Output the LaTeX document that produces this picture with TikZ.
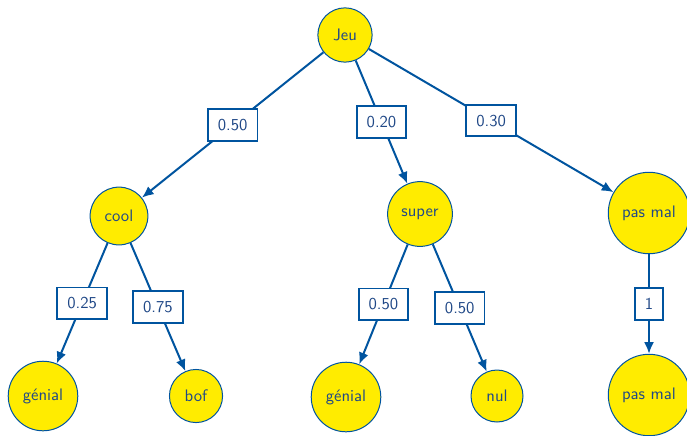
\documentclass[tikz,border=0pt]{standalone}
\usepackage{tikz}
\usetikzlibrary{arrows.meta}

\definecolor{edgeblue}{RGB}{0,84,159}
\definecolor{textblue}{RGB}{32,72,135}
\definecolor{leafyellow}{RGB}{255,236,0}

\begin{document}
\begin{tikzpicture}[
    x=0.6pt, y=-0.6pt,
    font=\sffamily, text=textblue,
    state/.style={circle, draw=edgeblue, line width=0.6pt, fill=leafyellow, inner sep=6pt},
    prob/.style={draw=edgeblue, line width=1.1pt, fill=white, inner sep=6pt},
    arrow/.style={-{Latex[length=7pt, width=6pt]}, draw=edgeblue, line width=1.2pt}
]
\useasboundingbox (0,0) rectangle (687,435);
\clip (0,0) rectangle (687,435);

\node[state] (jeu) at (345,35) {Jeu};
\node[state] (cool) at (119,216) {cool};
\node[state] (super) at (420,214) {super};
\node[state] (pasmal) at (649,213) {pas mal};
\node[state] (genialA) at (43,396) {génial};
\node[state] (bof) at (196,396) {bof};
\node[state] (genialB) at (346,397) {génial};
\node[state] (nul) at (497,396) {nul};
\node[state] (pasmalB) at (649,395) {pas mal};

\draw[arrow] (jeu) -- node[prob] {0.50} (cool);
\draw[arrow] (jeu) -- node[prob] {0.20} (super);
\draw[arrow] (jeu) -- node[prob] {0.30} (pasmal);
\draw[arrow] (cool) -- node[prob] {0.25} (genialA);
\draw[arrow] (cool) -- node[prob] {0.75} (bof);
\draw[arrow] (super) -- node[prob] {0.50} (genialB);
\draw[arrow] (super) -- node[prob] {0.50} (nul);
\draw[arrow] (pasmal) -- node[prob] {1} (pasmalB);
\end{tikzpicture}
\end{document}
